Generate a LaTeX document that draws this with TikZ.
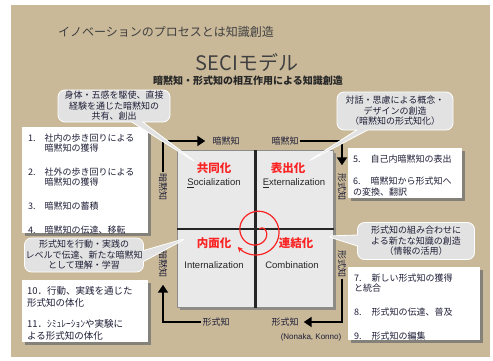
\documentclass[tikz,border=0pt]{standalone}
\usepackage{fontspec}
\setmainfont{Noto Sans CJK JP}
\newfontfamily\latf{Liberation Sans}
\usetikzlibrary{shapes.callouts,arrows.meta,shadows}
\definecolor{bgbeige}{RGB}{201,185,153}
\definecolor{cellgray}{RGB}{233,233,233}
\definecolor{bubgray}{RGB}{226,226,226}
\definecolor{txtdark}{RGB}{30,30,55}
\definecolor{redlab}{RGB}{250,35,35}
\tikzset{
  bubble/.style={rectangle callout, fill=bubgray, draw=white, line width=0.8pt,
    rounded corners=7pt, align=center, font=\fontsize{9}{10.5}\selectfont,
    text=txtdark, inner sep=1pt, callout pointer width=11pt},
  itembox/.style={fill=white, draw=none, anchor=north west, inner sep=0pt,
    drop shadow={shadow xshift=2.5pt, shadow yshift=-2.5pt, fill=black!55, opacity=0.8}},
  itemtext/.style={anchor=north west, inner sep=0pt, text=txtdark,
    font=\fontsize{9}{10}\selectfont},
  flowarrow/.style={line width=2.6pt, draw=black, -{Triangle[length=8pt,width=10pt]}},
  axlab/.style={font=\fontsize{9}{9}\selectfont, text=txtdark, inner sep=1pt},
  quadjp/.style={font=\fontsize{11.5}{12}\bfseries\selectfont, text=redlab, inner sep=1pt},
  quaden/.style={font=\latf\fontsize{9.5}{10}\selectfont, text=black!85, inner sep=1pt},
}
\begin{document}
\begin{tikzpicture}[x=1pt,y=-1pt]
\useasboundingbox (0,0) rectangle (493,360);
\fill[white] (0,0) rectangle (493,360);
\fill[bgbeige] (11,5) rectangle (490,357);

% titles
\node[anchor=west, inner sep=0pt, text=black!75, font=\fontsize{12}{12}\selectfont] (title) at (58,32) {イノベーションのプロセスとは知識創造};
\node[inner sep=0pt, text=black!75, font=\fontsize{20}{20}\selectfont] (seci) at (247,63) {SECIモデル};
\node[inner sep=0pt, text=black!85, font=\fontsize{10}{10}\bfseries\selectfont] (sub) at (248,81) {暗黙知・形式知の相互作用による知識創造};

% item boxes
\node[itembox, minimum width=126pt, minimum height=106pt] (b1) at (22,127) {};
\node[itembox, minimum width=114pt, minimum height=50pt] (b2) at (348,148) {};
\node[itembox, minimum width=132pt, minimum height=73pt] (b3) at (348,267) {};
\node[itembox, minimum width=126pt, minimum height=62pt] (b4) at (22,280) {};

\node[itemtext] (t1) at (28,133.5) {\begin{tabular}{@{}l@{\hspace{9pt}}l@{}}
1. & 社内の歩き回りによる\\ & 暗黙知の獲得\\[13pt]
2. & 社外の歩き回りによる\\ & 暗黙知の獲得\\[13pt]
3. & 暗黙知の蓄積\\[13pt]
4. & 暗黙知の伝達、移転\end{tabular}};
\node[itemtext] (t2) at (353,154.5) {\begin{tabular}{@{}l@{}}
5.\hspace{10pt}自己内暗黙知の表出\\[12pt]
6.\hspace{10pt}暗黙知から形式知へ\\
の変換、翻訳\end{tabular}};
\node[itemtext] (t3) at (354,273.5) {\begin{tabular}{@{}l@{}}
7.\hspace{10pt}新しい形式知の獲得\\
と統合\\[13pt]
8.\hspace{10pt}形式知の伝達、普及\\[13pt]
9.\hspace{10pt}形式知の編集\end{tabular}};
\node[itemtext, font=\fontsize{9.5}{12}\selectfont] (t4) at (27,285.5) {\begin{tabular}{@{}l@{}}
10．行動、実践を通じた\\
形式知の体化\\[9pt]
11．ｼﾐｭﾚｰｼｮﾝや実験に\\
よる形式知の体化\end{tabular}};

% matrix
\node[anchor=north west, draw=black!45, fill=cellgray, line width=0.8pt, inner sep=0pt,
  minimum width=156pt, minimum height=157pt,
  drop shadow={shadow xshift=2.5pt, shadow yshift=-2.5pt, fill=black!50, opacity=0.8}] (mat) at (177,150) {};
\draw[line width=2.4pt, black!85] (mat.north) -- (mat.south);
\draw[line width=2.4pt, black!85] (mat.west) -- (mat.east);

% quadrant labels
\node[quadjp] (qS) at (214,168) {共同化};
\node[quaden] (qSe) at (214,183) {\underline{S}ocialization};
\node[quadjp] (qE) at (288,168) {表出化};
\node[quaden] (qEe) at (294,183) {\underline{E}xternalization};
\node[quadjp] (qI) at (214,243) {内面化};
\node[quaden] (qIe) at (214,265) {Internalization};
\node[quadjp] (qC) at (296,243) {連結化};
\node[quaden] (qCe) at (292,265) {Combination};

% spiral
\draw[redlab, line width=1.2pt, -{Stealth[length=5pt,width=5pt]}]
  plot[domain=0:540, samples=120, smooth, variable=\t]
  ({257+(3+22*sqrt(\t/540))*cos(\t-400)}, {231+(3+22*sqrt(\t/540))*sin(\t-400)});

% axis labels
\node[axlab] (lt1) at (226,141) {暗黙知};
\node[axlab] (lt2) at (285,141) {暗黙知};
\node[axlab, rotate=-90] (ll1) at (163,187) {暗黙知};
\node[axlab, rotate=-90] (ll2) at (163,264) {暗黙知};
\node[axlab, rotate=-90] (lr1) at (342,187) {形式知};
\node[axlab, rotate=-90] (lr2) at (342,264) {形式知};
\node[axlab] (lb1) at (216,322) {形式知};
\node[axlab] (lb2) at (285,322) {形式知};
\node[inner sep=0pt, text=txtdark, font=\latf\fontsize{8}{8}\selectfont] (src) at (311,337) {(Nonaka, Konno)};

% flow arrows
\draw[flowarrow, shorten >=6pt] (ll1.west) |- (lt1.west);
\draw[flowarrow, shorten >=7pt] (lt2.east) -| (lr1.west);
\draw[flowarrow, shorten >=4pt] (lr2.east) |- (lb2.east);
\draw[flowarrow, shorten >=6pt] (lb1.west) -| (ll2.east);

% callouts
\node[bubble, minimum width=112pt, minimum height=32pt, callout absolute pointer={(197,163)}] (cTL) at (114,106) {身体・五感を駆使、直接\\経験を通じた暗黙知の\\共有、創出};
\node[bubble, minimum width=116pt, minimum height=38pt, callout absolute pointer={(307,162)}] (cTR) at (395,111) {対話・思慮による概念・\\デザインの創造\\（暗黙知の形式知化）};
\node[bubble, minimum width=118pt, minimum height=34pt, callout absolute pointer={(187,238)}] (cML) at (84,255) {形式知を行動・実践の\\レベルで伝達、新たな暗黙知\\として理解・学習};
\node[bubble, minimum width=117pt, minimum height=37pt, callout absolute pointer={(326,236)}] (cMR) at (416,241) {形式知の組み合わせに\\よる新たな知識の創造\\（情報の活用）};
\end{tikzpicture}
\end{document}
